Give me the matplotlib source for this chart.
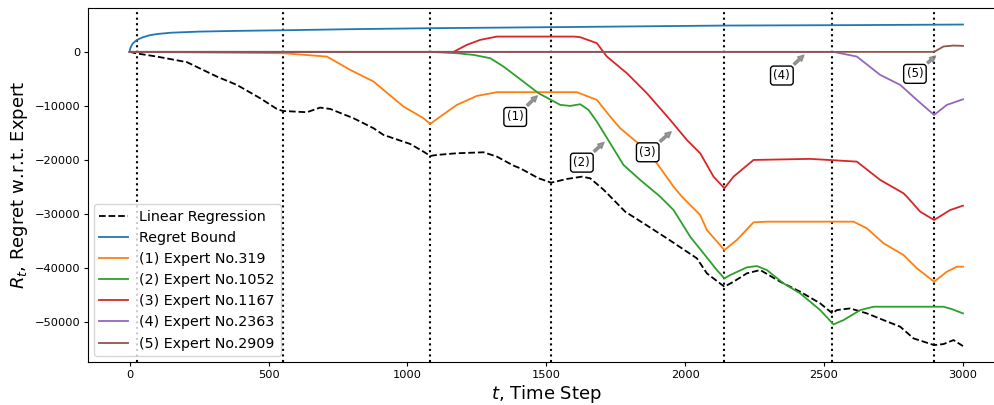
import matplotlib
matplotlib.use("Agg")
import matplotlib.pyplot as plt

# change points (vertical dotted lines)
change_t = [27, 552, 1082, 1517, 2140, 2530, 2896]

# linear regression (black dashed)
lr_t = [0, 27, 98, 206, 314, 386, 470, 530, 551, 638, 686, 722, 806, 878, 914, 1010,
        1058, 1082, 1106, 1178, 1274, 1322, 1382, 1406, 1472, 1490, 1517, 1574, 1628,
        1658, 1706, 1754, 1784, 1850, 1934, 2042, 2078, 2141, 2174, 2222, 2270, 2342,
        2414, 2486, 2530, 2546, 2594, 2654, 2714, 2774, 2822, 2896, 2930, 2966, 3000]
lr_v = [0, -300, -870, -1900, -4570, -6110, -8580, -10560, -10930, -11170, -10310,
        -10560, -12280, -14130, -15370, -17040, -18460, -19260, -19070, -18760, -18580,
        -19380, -21050, -21540, -23390, -23700, -24200, -23520, -23090, -23390, -25500,
        -28000, -29570, -31720, -34500, -38200, -40980, -43460, -42530, -40980, -40370,
        -42530, -44380, -46540, -48390, -47780, -47470, -48390, -49630, -50860, -53020,
        -54260, -54070, -53330, -54440]

# regret bound (blue)
rb_t = [0, 2, 6, 12, 26, 45, 70, 98, 150, 250, 380, 552, 800, 1082, 1517, 2140, 2600, 3000]
rb_v = [0, 600, 1100, 1600, 2200, 2650, 3050, 3300, 3550, 3750, 3880, 4000, 4200, 4380,
        4570, 4870, 4950, 5060]

# (1) expert 319
e1_t = [0, 553, 710, 794, 878, 914, 986, 1058, 1082, 1118, 1178, 1250, 1322, 1610, 1682,
        1730, 1766, 1838, 1898, 1958, 1988, 2054, 2078, 2141, 2186, 2246, 2294, 2606,
        2654, 2714, 2786, 2834, 2896, 2942, 2978, 3000]
e1_v = [0, -250, -870, -3330, -5490, -7040, -10120, -12280, -13330, -11980, -9810, -8150,
        -7460, -7460, -8890, -11980, -14130, -17220, -20610, -24940, -26790, -30190,
        -32960, -36670, -34810, -31540, -31420, -31420, -32650, -35420, -37590, -40050,
        -42530, -40680, -39750, -39750]

# (2) expert 1052
e2_t = [0, 1082, 1178, 1238, 1298, 1346, 1406, 1472, 1517, 1550, 1586, 1622, 1652, 1682,
        1730, 1778, 1838, 1910, 1958, 2018, 2066, 2114, 2141, 2162, 2222, 2258, 2294,
        2354, 2414, 2486, 2534, 2570, 2630, 2678, 2930, 2960, 3000]
e2_v = [0, 0, -250, -560, -1170, -2720, -5060, -7650, -8890, -9810, -10000, -9690, -10740,
        -12900, -16910, -20930, -23700, -26790, -29260, -34200, -37280, -40370, -41910,
        -41300, -39870, -39630, -40370, -42840, -44690, -47780, -50430, -49630, -47780,
        -47160, -47160, -47600, -48390]

# (3) expert 1167
e3_t = [0, 1166, 1214, 1262, 1322, 1600, 1622, 1682, 1718, 1790, 1862, 1946, 2006, 2054,
        2102, 2141, 2174, 2246, 2450, 2618, 2702, 2786, 2798, 2846, 2896, 2954, 3000]
e3_v = [0, 0, 1300, 2220, 2830, 2830, 2720, 1610, -870, -3950, -7650, -12590, -16300,
        -18760, -23090, -25240, -23090, -20000, -19800, -20310, -23700, -26170, -26790,
        -29570, -31110, -29260, -28460]

# (4) expert 2363
e4_t = [0, 2534, 2618, 2702, 2774, 2834, 2896, 2942, 3000]
e4_v = [0, 0, -870, -4260, -6110, -8890, -11670, -9810, -8770]

# (5) expert 2909
e5_t = [0, 2896, 2930, 2966, 3000]
e5_v = [0, 0, 1000, 1170, 1110]

labels = ["(1) Expert No.319", "(2) Expert No.1052", "(3) Expert No.1167",
          "(4) Expert No.2363", "(5) Expert No.2909"]

# annotation boxes: text position and arrow tip
ann_text = ["(1)", "(2)", "(3)", "(4)", "(5)"]
ann_xy = [(1475, -7780), (1715, -16400), (1957, -14440), (2435, -250), (2909, -430)]
ann_xytext = [(1388, -12040), (1628, -20500), (1865, -18580), (2348, -4380), (2827, -4070)]

fig = plt.figure(figsize=(9.95, 4.05), dpi=100)
ax = fig.add_axes([0.0884, 0.106, 0.9213, 0.874])

for t in change_t:
    ax.axvline(t, color="black", linestyle=":", lw=1.5)

lw = 1.3
ax.plot(lr_t, lr_v, "k--", lw=lw, label="Linear Regression")
ax.plot(rb_t, rb_v, color="tab:blue", lw=lw, label="Regret Bound")
ax.plot(e1_t, e1_v, color="tab:orange", lw=lw, label=labels[0])
ax.plot(e2_t, e2_v, color="tab:green", lw=lw, label=labels[1])
ax.plot(e3_t, e3_v, color="tab:red", lw=lw, label=labels[2])
ax.plot(e4_t, e4_v, color="tab:purple", lw=lw, label=labels[3])
ax.plot(e5_t, e5_v, color="tab:brown", lw=lw, label=labels[4])

for txt, xy, xyt in zip(ann_text, ann_xy, ann_xytext):
    ax.annotate(txt, xy=xy, xytext=xyt, ha="center", va="center", fontsize=8.5,
                bbox=dict(boxstyle="round,pad=0.25", fc="white", ec="black"),
                arrowprops=dict(arrowstyle="simple", color="gray", alpha=0.8))

ax.set_xlim(-150, 3150)
ax.set_ylim(-57400, 8100)
ax.spines["right"].set_visible(False)
ax.tick_params(labelsize=8.2, length=2.8, pad=2.8)
ax.set_xlabel("$t$, Time Step", fontsize=13, labelpad=2)
ax.set_ylabel("$R_t$, Regret w.r.t. Expert", fontsize=13, labelpad=3)
ax.legend(loc="lower left", fontsize=10.3, handlelength=2.0, borderaxespad=0.4)

fig.savefig("out.png", dpi=100)
